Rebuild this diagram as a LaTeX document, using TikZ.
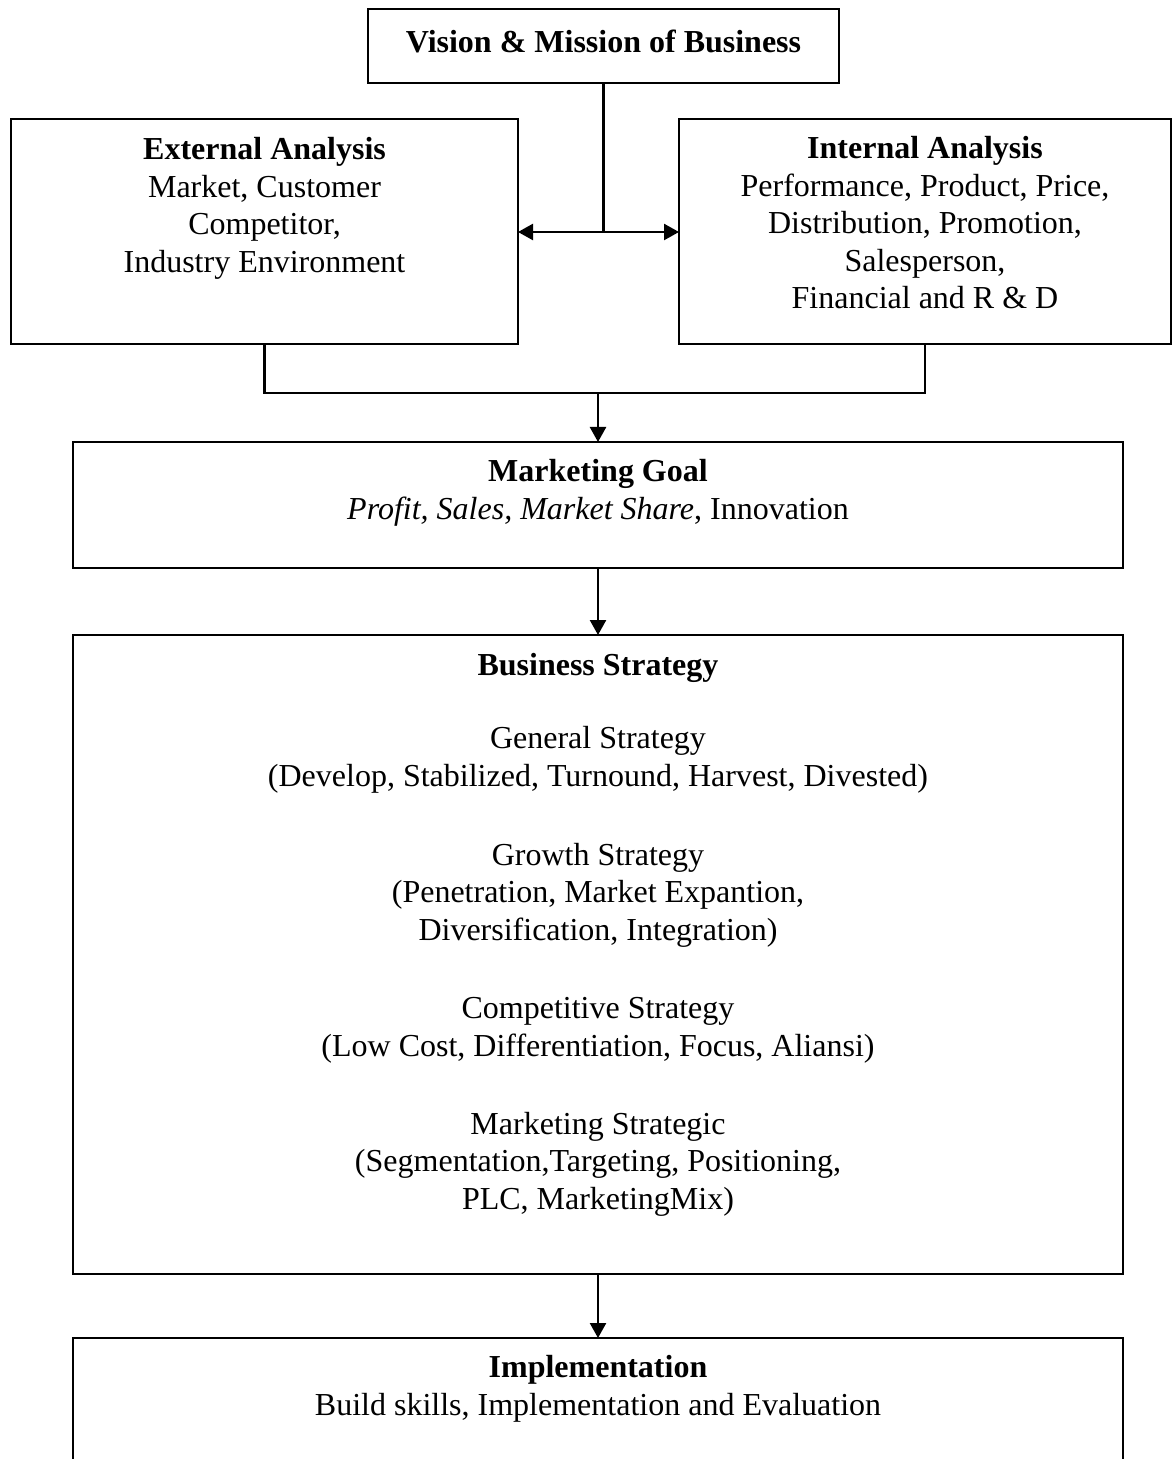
\documentclass[tikz,border=0pt]{standalone}
\usepackage{fontspec}
\setmainfont{Liberation Serif}
\usetikzlibrary{arrows.meta}
\begin{document}
\begin{tikzpicture}[x=0.5pt,y=-0.5pt,
  every node/.style={font=\fontsize{16pt}{18.75pt}\selectfont},
  box/.style={draw, line width=1.1pt, inner sep=0pt, outer sep=0pt},
  txt/.style={align=center, anchor=base, inner sep=0pt},
  conn/.style={line width=1.2pt},
  arr/.style={conn, -{Triangle[length=7.5pt,width=8pt]}}]
\useasboundingbox (0,0) rectangle (1172,1459);
\clip (0,0) rectangle (1172,1459);
\fill[white] (0,0) rectangle (1172,1459);
% boxes
\node[box, minimum width=235.5pt, minimum height=37pt] (vision) at (603.5,46) {};
\node[box, minimum width=253.5pt, minimum height=112.5pt] (ext) at (264.5,231.5) {};
\node[box, minimum width=246pt, minimum height=112.5pt] (int) at (925,231.5) {};
\node[box, minimum width=525pt, minimum height=63pt] (goal) at (598,505) {};
\node[box, minimum width=525pt, minimum height=319.5pt] (strat) at (598,954.5) {};
\node[box, minimum width=525pt, minimum height=71pt] (impl) at (598,1409) {};
% texts (anchor base = baseline of the last line)
\node[txt] (tvision) at (603.5,53) {\textbf{Vision \& Mission of Business}};
\node[txt] (text) at (264.5,272.5) {\textbf{External Analysis}\\Market, Customer\\Competitor,\\Industry Environment};
\node[txt] (tint) at (925,309) {\textbf{Internal Analysis}\\Performance, Product, Price,\\Distribution, Promotion,\\Salesperson,\\Financial and R \& D};
\node[txt] (tgoal) at (598,519) {\textbf{Marketing Goal}\\\textit{Profit, Sales, Market Share}, Innovation};
\node[txt] (tstrat) at (598,675) {\textbf{Business Strategy}};
\node[txt] (tgen) at (598,786) {General Strategy\\(Develop, Stabilized, Turnound, Harvest, Divested)};
\node[txt] (tgro) at (598,940) {Growth Strategy\\(Penetration, Market Expantion,\\Diversification, Integration)};
\node[txt] (tcom) at (598,1056) {Competitive Strategy\\(Low Cost, Differentiation, Focus, Aliansi)};
\node[txt] (tmkt) at (598,1209) {Marketing Strategic\\(Segmentation,Targeting, Positioning,\\PLC, MarketingMix)};
\node[txt] (timpl) at (598,1415) {\textbf{Implementation}\\Build skills, Implementation and Evaluation};
% connectors
\coordinate (hub) at (603.5,232);
\coordinate (merge) at (598,393);
\draw[conn] (vision.south) -- (hub);
\draw[arr] (hub) -- (hub -| ext.east);
\draw[arr] (hub) -- (hub -| int.west);
\draw[conn] (ext.south) |- (merge) -| (int.south);
\draw[arr] (merge) -- (goal.north);
\draw[arr] (goal.south) -- (strat.north);
\draw[arr] (strat.south) -- (impl.north);
\end{tikzpicture}
\end{document}
